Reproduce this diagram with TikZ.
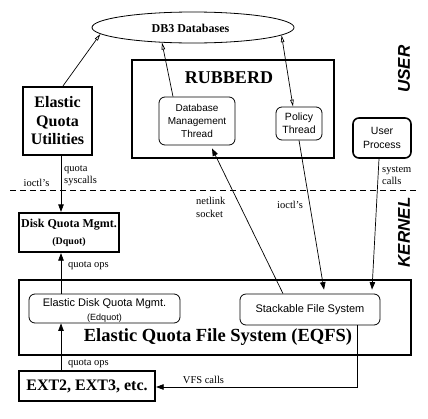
\documentclass[tikz,border=0pt]{standalone}
\usepackage{fontspec}
\setmainfont{Liberation Serif}
\setsansfont{Liberation Sans}
\usetikzlibrary{arrows.meta,calc,shapes.geometric}
\begin{document}
\begin{tikzpicture}[x=1pt,y=-1pt,
  thickbox/.style={draw,line width=2.2pt,inner sep=0pt,align=center},
  thinbox/.style={draw,line width=0.8pt,rounded corners=6pt,inner sep=0pt,align=center},
  lbl/.style={inner sep=0pt,align=left,font=\fontsize{10.5}{12}\selectfont},
  conn/.style={line width=0.7pt},
  fa/.style={conn,-{Triangle[length=7.5pt,width=5.5pt]}},
  oa/.style={conn,-{Triangle[open,length=7pt,width=3.5pt]}},
  oaa/.style={conn,{Triangle[open,length=7pt,width=3.5pt]}-{Triangle[open,length=7pt,width=3.5pt]}},
]
\useasboundingbox (0,0) rectangle (428,418);

% user space
\node[ellipse,draw,line width=0.8pt,minimum width=202pt,minimum height=31pt,inner sep=0pt] (db) at (193,27.5) {};
\node[inner sep=0pt,font=\bfseries\fontsize{12}{14}\selectfont] (dbt) at (190.5,28) {DB3 Databases};

\node[thickbox,minimum width=202pt,minimum height=98pt] (rub) at (233,109) {};
\node[inner sep=0pt,font=\bfseries\fontsize{18}{20}\selectfont] (rubt) at (229,78) {RUBBERD};

\node[thinbox,minimum width=76pt,minimum height=48pt,font=\sffamily\fontsize{10}{13}\selectfont] (dbm) at (197,121) {Database\\Management\\Thread};
\node[thinbox,minimum width=46pt,minimum height=33pt,font=\sffamily\fontsize{10.5}{13}\selectfont] (pol) at (299,123.5) {Policy\\Thread};
\node[draw,line width=1.6pt,rounded corners=6pt,inner sep=0pt,align=center,minimum width=58pt,minimum height=40pt,font=\sffamily\fontsize{10.5}{14}\selectfont] (usr) at (382,138) {User\\Process};

\node[thickbox,minimum width=69pt,minimum height=68pt,font=\bfseries\fontsize{16}{18.5}\selectfont] (utl) at (57.5,121) {Elastic\\Quota\\Utilities};

\node[inner sep=0pt,rotate=90,font=\sffamily\bfseries\itshape\fontsize{17}{17}\selectfont] (user) at (404,69) {USER};
\node[inner sep=0pt,rotate=90,font=\sffamily\bfseries\itshape\fontsize{17}{17}\selectfont] (kern) at (404,232.5) {KERNEL};

% boundary
\coordinate (dl) at (10,190.5);
\coordinate (dr) at (418,190.5);
\draw[conn,dash pattern=on 6pt off 4pt] (dl) -- (dr);

% kernel space
\node[thickbox,minimum width=100pt,minimum height=39pt] (dq) at (69,232.5) {};
\node[inner sep=0pt,font=\bfseries\fontsize{12}{14}\selectfont] (dqt1) at (69,225) {Disk Quota Mgmt.};
\node[inner sep=0pt,font=\bfseries\fontsize{10}{12}\selectfont] (dqt2) at (69,242) {(Dquot)};

\node[thickbox,minimum width=392pt,minimum height=75pt] (eq) at (215,317.5) {};
\node[inner sep=0pt,font=\bfseries\fontsize{18.5}{20}\selectfont] (eqt) at (218,337) {Elastic Quota File System (EQFS)};

\node[thinbox,minimum width=151pt,minimum height=29pt] (edq) at (104.5,308.5) {};
\node[inner sep=0pt,font=\sffamily\fontsize{11}{13}\selectfont] (edqt1) at (104.5,304) {Elastic Disk Quota Mgmt.};
\node[inner sep=0pt,font=\sffamily\fontsize{9}{11}\selectfont] (edqt2) at (104.5,318) {(Edquot)};

\node[thinbox,minimum width=140pt,minimum height=31pt,font=\sffamily\fontsize{11}{13}\selectfont] (stk) at (310,309.5) {Stackable File System};

\node[thickbox,minimum width=136pt,minimum height=30pt,font=\bfseries\fontsize{16}{18}\selectfont] (ext) at (87,386) {EXT2, EXT3, etc.};

% connectors
\coordinate (colx) at (61,0);
\draw[oa] ($(utl.north)+(5.5,0)$) -- (db.184.5);
\draw[oa] ($(dbm.north)+(-24,0)$) -- (db.206);
\draw[oaa] (db.355) -- ($(pol.north)+(-6,0)$);

\draw[fa] (utl.south -| colx) -- (dq.north -| colx);
\draw[fa] (edq.north -| colx) -- (dq.south -| colx);
\draw[fa] (ext.north -| colx) -- (edq.south -| colx);

\draw[fa] ($(stk.north)+(-27,0)$) -- ($(dbm.south)+(15,3)$);
\draw[fa] (pol.south) -- ($(stk.north)+(14,-4)$);
\draw[fa] ($(usr.south)+(-3,0)$) -- ($(stk.north)+(62,-4)$);
\draw[fa] ($(stk.south)+(47,0)$) |- ($(ext.east)+(0,1)$);

% labels
\node[lbl,anchor=west] (l1) at (64,176) {quota\\syscalls};
\node[lbl] (l2) at (36.5,183) {ioctl's};
\node[lbl,anchor=west,font=\fontsize{10.5}{13}\selectfont] (l3) at (196,207.5) {netlink\\socket};
\node[lbl] (l4) at (290,205) {ioctl's};
\node[lbl,anchor=west,font=\fontsize{10.5}{11.5}\selectfont] (l5) at (382,175.5) {system\\calls};
\node[lbl,anchor=west] (l6) at (68,266) {quota ops};
\node[lbl,anchor=west] (l7) at (68,363.5) {quota ops};
\node[lbl] (l8) at (203.5,380) {VFS calls};
\end{tikzpicture}
\end{document}
